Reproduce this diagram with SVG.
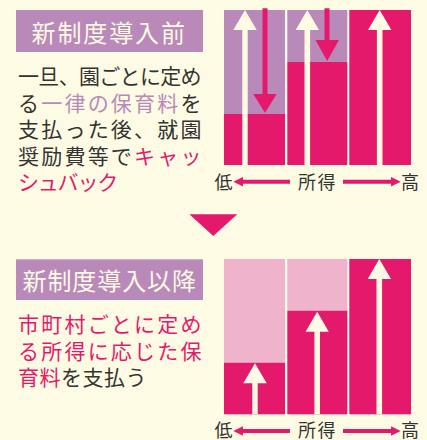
<svg xmlns="http://www.w3.org/2000/svg" width="427" height="440" viewBox="0 0 427 440">
<style>
text{font-family:"Noto Sans CJK JP","Noto Sans",sans-serif;}
.hd{fill:#fdf9e3;font-size:24px;}
.hbox{fill:#b98ab9;}
.body{fill:#333;font-size:21px;}
.pu{fill:#b98ab9;}
.pk{fill:#e5196b;}
.ax{fill:#333;font-size:18px;}
.bar{fill:#e5196b;}
.barp{fill:#b98ab9;}
.barl{fill:#f0b3cc;}
.up{fill:#fffbe4;}
.dn{fill:#e5196b;}
.axl{stroke:#e5196b;stroke-width:4;fill:none;}
</style>
<defs>
<marker id="ah" viewBox="0 0 10 10" refX="1" refY="5" markerWidth="2.4" markerHeight="2.6" orient="auto-start-reverse" markerUnits="strokeWidth">
<path d="M0,0 L10,5 L0,10 Z" fill="#e5196b"/>
</marker>
</defs>
<rect width="427" height="440" fill="#fdfbe4"/>

<g id="header-before">
<rect class="hbox" x="16" y="10" width="187" height="42"/>
<text class="hd" x="31.5" y="42" textLength="153.5" lengthAdjust="spacing">新制度導入前</text>
</g>

<g id="text-before">
<text class="body" x="18" y="84" textLength="183.5" lengthAdjust="spacing">一旦、園ごとに定め</text>
<text class="body" x="18" y="110.5" textLength="183.5" lengthAdjust="spacing">る<tspan class="pu">一律の保育料</tspan>を</text>
<text class="body" x="18" y="137" textLength="183.5" lengthAdjust="spacing">支払った後、就園</text>
<text class="body" x="18" y="163.5" textLength="183.5" lengthAdjust="spacing">奨励費等で<tspan class="pk">キャッ</tspan></text>
<text class="body pk" x="18" y="190" letter-spacing="-1.2">シュバック</text>
</g>

<g id="chart-before">
<rect class="barp" x="224" y="10" width="61" height="104"/>
<rect class="bar" x="224" y="114" width="61" height="51"/>
<rect class="barp" x="287.3" y="10" width="60" height="52"/>
<rect class="bar" x="287.3" y="62" width="60" height="103"/>
<rect class="bar" x="349.3" y="10" width="61.7" height="155"/>
</g>

<g id="chart-after">
<rect class="barl" x="224" y="259" width="61" height="103.7"/>
<rect class="bar" x="224" y="362.7" width="61" height="51.6"/>
<rect class="barl" x="287.3" y="259" width="60" height="51.7"/>
<rect class="bar" x="287.3" y="310.7" width="60" height="103.6"/>
<rect class="bar" x="349.3" y="259" width="61.7" height="155.3"/>
</g>

<g id="connectors">
<polygon class="up" points="242.3,165 242.3,30 233.3,30 245,10 256.7,30 247.7,30 247.7,165"/>
<polygon class="up" points="304.5,165 304.5,30 295.7,30 307.3,10 319,30 310.1,30 310.1,165"/>
<polygon class="up" points="376.9,165 376.9,30 368,30 379.7,10 391.4,30 382.5,30 382.5,165"/>
<polygon class="dn" points="262.5,8.3 267.5,8.3 267.5,94 276.7,94 265,113 253.3,94 262.5,94"/>
<polygon class="dn" points="324.5,8.3 329.5,8.3 329.5,40 339,40 327.2,61 315.5,40 324.5,40"/>
<line class="axl" x1="290" y1="181.7" x2="242" y2="181.7" marker-end="url(#ah)"/>
<line class="axl" x1="343" y1="181.7" x2="392" y2="181.7" marker-end="url(#ah)"/>
<polygon class="up" points="252.3,414.3 252.3,383.3 243.3,383.3 255,363.3 266.7,383.3 257.7,383.3 257.7,414.3"/>
<polygon class="up" points="314.4,414.3 314.4,331.7 305.6,331.7 317.2,311.7 328.8,331.7 320,331.7 320,414.3"/>
<polygon class="up" points="376.5,414.3 376.5,279 367.7,279 379.3,259 391,279 382.1,279 382.1,414.3"/>
<line class="axl" x1="290" y1="431" x2="242" y2="431" marker-end="url(#ah)"/>
<line class="axl" x1="343" y1="431" x2="392" y2="431" marker-end="url(#ah)"/>
</g>

<g id="axis-before">
<text class="ax" x="214.5" y="188.5">低</text>
<text class="ax" x="298" y="188.5" letter-spacing="1.5">所得</text>
<text class="ax" x="401" y="188.5">高</text>
</g>

<g id="down-triangle">
<polygon points="189.3,214.3 237.3,214.3 213.3,236" fill="#e5196b"/>
</g>

<g id="header-after">
<rect class="hbox" x="16" y="259.3" width="187" height="40.7"/>
<text class="hd" x="22.5" y="290" textLength="173.5" lengthAdjust="spacing">新制度導入以降</text>
</g>

<g id="text-after">
<text class="body pk" x="18" y="332" textLength="183.5" lengthAdjust="spacing">市町村ごとに定め</text>
<text class="body pk" x="18" y="358.7" textLength="183.5" lengthAdjust="spacing">る所得に応じた保</text>
<text class="body" x="18" y="385.4" letter-spacing="0.5"><tspan class="pk">育料</tspan>を支払う</text>
</g>

<g id="axis-after">
<text class="ax" x="214.5" y="437">低</text>
<text class="ax" x="298" y="437" letter-spacing="1.5">所得</text>
<text class="ax" x="401" y="437">高</text>
</g>
</svg>
